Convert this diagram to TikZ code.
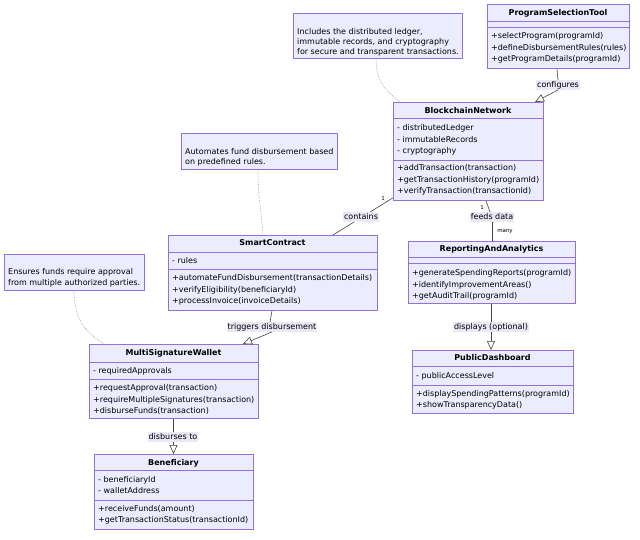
\documentclass[tikz,border=0pt]{standalone}
\usepackage{fontspec}
\setmainfont{DejaVu Sans}
\usetikzlibrary{arrows.meta,calc}
\definecolor{boxfill}{HTML}{ECECFF}
\definecolor{boxline}{HTML}{9370DB}
\definecolor{edgecol}{HTML}{444444}
\definecolor{notelink}{HTML}{999999}
\definecolor{lblfill}{HTML}{E8E8F6}
\tikzset{
  box/.style={draw=boxline, fill=boxfill, line width=0.8pt, inner sep=0, anchor=north west},
  txt/.style={anchor=west, inner sep=0, text height=5.8pt, text depth=1.6pt, font=\fontsize{8}{9.5}\selectfont},
  ttl/.style={anchor=center, inner sep=0, text height=5.8pt, text depth=1.6pt, font=\fontsize{8}{9.5}\selectfont\bfseries},
  sep/.style={draw=boxline, line width=0.8pt},
  rel/.style={draw=edgecol, line width=0.6pt},
  notel/.style={draw=notelink, line width=0.6pt, densely dotted},
  tri/.style={-{Triangle[open, length=9pt, width=8pt]}},
  lbl/.style={fill=lblfill, inner sep=1pt, text height=5.8pt, text depth=1.6pt, font=\fontsize{8}{9.5}\selectfont},
  mult/.style={inner sep=0, font=\fontsize{5.5}{6}\selectfont},
}
\begin{document}
\begin{tikzpicture}[x=1pt,y=-1pt]
\path[fill=white] (0,0) rectangle (640,539);
\useasboundingbox (0,0) rectangle (640,539);

% ---------- Note 1
\node[box, minimum width=169pt, minimum height=45pt] (n1) at (293,13) {};
\node[txt] (n1a) at (297,32) {Includes the distributed ledger,};
\node[txt] (n1b) at (297,42) {immutable records, and cryptography};
\node[txt] (n1c) at (297,52) {for secure and transparent transactions.};

% ---------- ProgramSelectionTool
\node[box, minimum width=142pt, minimum height=64pt] (pst) at (487,4) {};
\node[ttl] (pstt) at (558,13) {ProgramSelectionTool};
\draw[sep] (487,21) -- (629,21);
\draw[sep] (487,27) -- (629,27);
\node[txt] (pstm1) at (491,36) {+selectProgram(programId)};
\node[txt] (pstm2) at (491,48) {+defineDisbursementRules(rules)};
\node[txt] (pstm3) at (491,59) {+getProgramDetails(programId)};

% ---------- BlockchainNetwork
\node[box, minimum width=150pt, minimum height=98pt] (bc) at (393,102) {};
\node[ttl] (bct) at (468,111) {BlockchainNetwork};
\draw[sep] (393,118) -- (543,118);
\node[txt] (bca1) at (397,128) {- distributedLedger};
\node[txt] (bca2) at (397,140) {- immutableRecords};
\node[txt] (bca3) at (397,151) {- cryptography};
\draw[sep] (393,160) -- (543,160);
\node[txt] (bcm1) at (397,168) {+addTransaction(transaction)};
\node[txt] (bcm2) at (397,180) {+getTransactionHistory(programId)};
\node[txt] (bcm3) at (397,191) {+verifyTransaction(transactionId)};

% ---------- Note 2
\node[box, minimum width=156pt, minimum height=36pt] (n2) at (181,133) {};
\node[txt] (n2a) at (185,152) {Automates fund disbursement based};
\node[txt] (n2b) at (185,162) {on predefined rules.};

% ---------- SmartContract
\node[box, minimum width=209pt, minimum height=75pt] (sc) at (168,235) {};
\node[ttl] (sct) at (272.5,243) {SmartContract};
\draw[sep] (168,252) -- (377,252);
\node[txt] (sca1) at (172,261) {- rules};
\draw[sep] (168,269) -- (377,269);
\node[txt] (scm1) at (172,278) {+automateFundDisbursement(transactionDetails)};
\node[txt] (scm2) at (172,290) {+verifyEligibility(beneficiaryId)};
\node[txt] (scm3) at (172,301) {+processInvoice(invoiceDetails)};

% ---------- ReportingAndAnalytics
\node[box, minimum width=167pt, minimum height=62pt] (ra) at (408,241) {};
\node[ttl] (rat) at (491.5,249) {ReportingAndAnalytics};
\draw[sep] (408,257) -- (575,257);
\draw[sep] (408,263) -- (575,263);
\node[txt] (ram1) at (412,273) {+generateSpendingReports(programId)};
\node[txt] (ram2) at (412,285) {+identifyImprovementAreas()};
\node[txt] (ram3) at (412,296) {+getAuditTrail(programId)};

% ---------- PublicDashboard
\node[box, minimum width=161pt, minimum height=63pt] (pd) at (412,350) {};
\node[ttl] (pdt) at (492.5,358) {PublicDashboard};
\draw[sep] (412,366) -- (573,366);
\node[txt] (pda1) at (416,376) {- publicAccessLevel};
\draw[sep] (412,385) -- (573,385);
\node[txt] (pdm1) at (416,394) {+displaySpendingPatterns(programId)};
\node[txt] (pdm2) at (416,405) {+showTransparencyData()};

% ---------- Note 3
\node[box, minimum width=140pt, minimum height=36pt] (n3) at (4,254) {};
\node[txt] (n3a) at (8,272) {Ensures funds require approval};
\node[txt] (n3b) at (8,283) {from multiple authorized parties.};

% ---------- MultiSignatureWallet
\node[box, minimum width=169pt, minimum height=74pt] (msw) at (89,344) {};
\node[ttl] (mswt) at (173.5,353) {MultiSignatureWallet};
\draw[sep] (89,362) -- (258,362);
\node[txt] (mswa1) at (93,371) {- requiredApprovals};
\draw[sep] (89,379) -- (258,379);
\node[txt] (mswm1) at (93,388) {+requestApproval(transaction)};
\node[txt] (mswm2) at (93,400) {+requireMultipleSignatures(transaction)};
\node[txt] (mswm3) at (93,411) {+disburseFunds(transaction)};

% ---------- Beneficiary
\node[box, minimum width=159pt, minimum height=75pt] (ben) at (94,454) {};
\node[ttl] (bent) at (173.5,463) {Beneficiary};
\draw[sep] (94,470) -- (253,470);
\node[txt] (bena1) at (98,480) {- beneficiaryId};
\node[txt] (bena2) at (98,491) {- walletAddress};
\draw[sep] (94,500) -- (253,500);
\node[txt] (benm1) at (98,509) {+receiveFunds(amount)};
\node[txt] (benm2) at (98,520) {+getTransactionStatus(transactionId)};

% ---------- note links
\coordinate (n1p) at ($(n1.south west)+(83,0)$);
\coordinate (bcp) at ($(bc.north west)+(7,0)$);
\draw[notel] (n1p) .. controls ($(n1p)+(0,25)$) and ($(bcp)+(-12,-10)$) .. (bcp);
\coordinate (n2p) at ($(n2.south west)+(77,0)$);
\coordinate (scp) at ($(sc.north west)+(95,0)$);
\draw[notel] (n2p) .. controls ($(n2p)+(0,30)$) and ($(scp)+(-2,-30)$) .. (scp);
\coordinate (n3p) at ($(n3.south west)+(70,0)$);
\coordinate (mswp) at ($(msw.north west)+(15,0)$);
\draw[notel] (n3p) .. controls ($(n3p)+(0,32)$) and ($(mswp)+(-15,-10)$) .. (mswp);

% ---------- relations
% configures
\coordinate (pstb) at ($(pst.south west)+(70,0)$);
\coordinate (bct2) at ($(bc.north west)+(142,0)$);
\node[lbl] (lcfg) at (558,85) {configures};
\draw[rel] (pstb) -- (lcfg.north);
\draw[rel,tri] (lcfg.south) -- (bct2);

% contains
\coordinate (bcbl) at ($(bc.south west)+(0,-3)$);
\coordinate (sctr) at ($(sc.north west)+(165,0)$);
\draw[rel] (bcbl) -- (sctr);
\node[lbl] (lcon) at (361,217) {contains};
\node[mult] (m1) at (383,198) {1};

% feeds data
\coordinate (bcb) at ($(bc.south west)+(93,0)$);
\coordinate (rat2) at ($(ra.north west)+(84,0)$);
\node[lbl] (lfd) at (492,217) {feeds data};
\draw[rel] (bcb) -- (lfd.north -| 490,0);
\draw[rel] (lfd.south -| rat2) -- (rat2);
\node[mult] (m2) at (482,207) {1};
\node[mult] (m3) at (505,232) {many};

% displays (optional)
\coordinate (rab) at ($(ra.south west)+(83,0)$);
\coordinate (pdt2) at ($(pd.north west)+(79,0)$);
\node[lbl] (ldisp) at (491,327) {displays (optional)};
\draw[rel] (rab) -- (ldisp.north -| rab);
\draw[rel,tri] (ldisp.south -| rab) -- (pdt2);

% triggers disbursement
\coordinate (scb) at ($(sc.south west)+(104,0)$);
\coordinate (mswt2) at ($(msw.north west)+(154,0)$);
\node[lbl] (ltrig) at (272,327) {triggers disbursement};
\draw[rel] (scb) -- (ltrig.north -| 270,0);
\draw[rel,tri] (ltrig.south) -- (mswt2);

% disburses to
\coordinate (mswb) at ($(msw.south west)+(84.5,0)$);
\coordinate (bentp) at ($(ben.north west)+(79.5,0)$);
\node[lbl] (ldis) at (173,437) {disburses to};
\draw[rel] (mswb) -- (ldis.north -| mswb);
\draw[rel,tri] (ldis.south -| mswb) -- (bentp);
\end{tikzpicture}
\end{document}
